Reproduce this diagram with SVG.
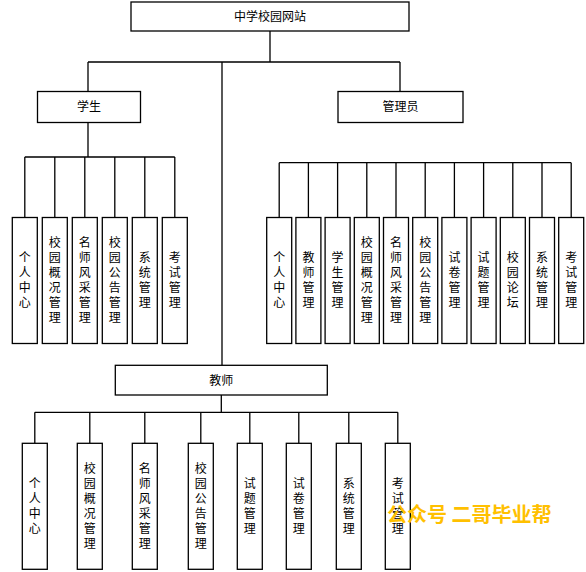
<svg xmlns="http://www.w3.org/2000/svg" width="586" height="572" viewBox="0 0 586 572">
<style>
.box{fill:#fff;stroke:#000;stroke-width:1.3}
.lbl{font-family:"Noto Sans CJK SC","Liberation Sans",sans-serif;font-size:12px;fill:#000;text-anchor:middle}
.v{font-family:"Noto Sans CJK SC","Liberation Sans",sans-serif;font-size:12px;fill:#000;text-anchor:middle;writing-mode:vertical-rl;letter-spacing:3px}
.con{fill:none;stroke:#000;stroke-width:1.3}
.wm{font-family:"Noto Sans CJK SC",sans-serif;font-size:20px;font-weight:bold;fill:#FFC000}
</style>
<rect width="586" height="572" fill="#fff"/>
<g id="connectors" class="con">
<path d="M270,31V62M88,62H400M88,62V91M400,62V91M222,62V365"/>
<path d="M88,122V157M24.8,157H174.8M24.8,157V217.5M54.8,157V217.5M84.8,157V217.5M114.8,157V217.5M144.8,157V217.5M174.8,157V217.5"/>
<path d="M279.2,162.7H571.2M279.2,162.7V217.5M308.4,162.7V217.5M337.6,162.7V217.5M366.8,162.7V217.5M396,162.7V217.5M425.2,162.7V217.5M454.4,162.7V217.5M483.6,162.7V217.5M512.8,162.7V217.5M542,162.7V217.5M571.2,162.7V217.5"/>
<path d="M221.3,395V412.3M34.8,412.3H397.8M34.8,412.3V443.3M89.8,412.3V443.3M144.8,412.3V443.3M200.8,412.3V443.3M249.8,412.3V443.3M298.8,412.3V443.3M348.8,412.3V443.3M397.8,412.3V443.3"/>
</g>
<g id="root"><rect class="box" x="131" y="2" width="278" height="29"/><text class="lbl" x="270" y="20.5">中学校园网站</text></g>
<g id="student"><rect class="box" x="37.5" y="91.5" width="103" height="31"/><text class="lbl" x="89" y="111">学生</text></g>
<g id="admin"><rect class="box" x="338" y="91.5" width="125" height="31"/><text class="lbl" x="400.5" y="111">管理员</text></g>
<g id="teacher"><rect class="box" x="115.3" y="365.3" width="212" height="29.7"/><text class="lbl" x="221.3" y="384.5">教师</text></g>

<g id="s1"><rect class="box" x="12.3" y="217.5" width="25" height="126"/><text class="v" x="24.8" y="281">个人中心</text></g>
<g id="s2"><rect class="box" x="42.3" y="217.5" width="25" height="126"/><text class="v" x="54.8" y="281">校园概况管理</text></g>
<g id="s3"><rect class="box" x="72.3" y="217.5" width="25" height="126"/><text class="v" x="84.8" y="281">名师风采管理</text></g>
<g id="s4"><rect class="box" x="102.3" y="217.5" width="25" height="126"/><text class="v" x="114.8" y="281">校园公告管理</text></g>
<g id="s5"><rect class="box" x="132.3" y="217.5" width="25" height="126"/><text class="v" x="144.8" y="281">系统管理</text></g>
<g id="s6"><rect class="box" x="162.3" y="217.5" width="25" height="126"/><text class="v" x="174.8" y="281">考试管理</text></g>

<g id="a1"><rect class="box" x="266.7" y="217.5" width="25" height="126"/><text class="v" x="279.2" y="281">个人中心</text></g>
<g id="a2"><rect class="box" x="295.9" y="217.5" width="25" height="126"/><text class="v" x="308.4" y="281">教师管理</text></g>
<g id="a3"><rect class="box" x="325.1" y="217.5" width="25" height="126"/><text class="v" x="337.6" y="281">学生管理</text></g>
<g id="a4"><rect class="box" x="354.3" y="217.5" width="25" height="126"/><text class="v" x="366.8" y="281">校园概况管理</text></g>
<g id="a5"><rect class="box" x="383.5" y="217.5" width="25" height="126"/><text class="v" x="396" y="281">名师风采管理</text></g>
<g id="a6"><rect class="box" x="412.7" y="217.5" width="25" height="126"/><text class="v" x="425.2" y="281">校园公告管理</text></g>
<g id="a7"><rect class="box" x="441.9" y="217.5" width="25" height="126"/><text class="v" x="454.4" y="281">试卷管理</text></g>
<g id="a8"><rect class="box" x="471.1" y="217.5" width="25" height="126"/><text class="v" x="483.6" y="281">试题管理</text></g>
<g id="a9"><rect class="box" x="500.3" y="217.5" width="25" height="126"/><text class="v" x="512.8" y="281">校园论坛</text></g>
<g id="a10"><rect class="box" x="529.5" y="217.5" width="25" height="126"/><text class="v" x="542" y="281">系统管理</text></g>
<g id="a11"><rect class="box" x="558.7" y="217.5" width="25" height="126"/><text class="v" x="571.2" y="281">考试管理</text></g>

<g id="t1"><rect class="box" x="22.3" y="443.3" width="25" height="126"/><text class="v" x="34.8" y="507">个人中心</text></g>
<g id="t2"><rect class="box" x="77.3" y="443.3" width="25" height="126"/><text class="v" x="89.8" y="507">校园概况管理</text></g>
<g id="t3"><rect class="box" x="132.3" y="443.3" width="25" height="126"/><text class="v" x="144.8" y="507">名师风采管理</text></g>
<g id="t4"><rect class="box" x="188.3" y="443.3" width="25" height="126"/><text class="v" x="200.8" y="507">校园公告管理</text></g>
<g id="t5"><rect class="box" x="237.3" y="443.3" width="25" height="126"/><text class="v" x="249.8" y="507">试题管理</text></g>
<g id="t6"><rect class="box" x="286.3" y="443.3" width="25" height="126"/><text class="v" x="298.8" y="507">试卷管理</text></g>
<g id="t7"><rect class="box" x="336.3" y="443.3" width="25" height="126"/><text class="v" x="348.8" y="507">系统管理</text></g>
<g id="t8"><rect class="box" x="385.3" y="443.3" width="25" height="126"/><text class="v" x="397.8" y="507">考试管理</text></g>

<text class="wm" x="387" y="522">公众号 二哥毕业帮</text>
</svg>
